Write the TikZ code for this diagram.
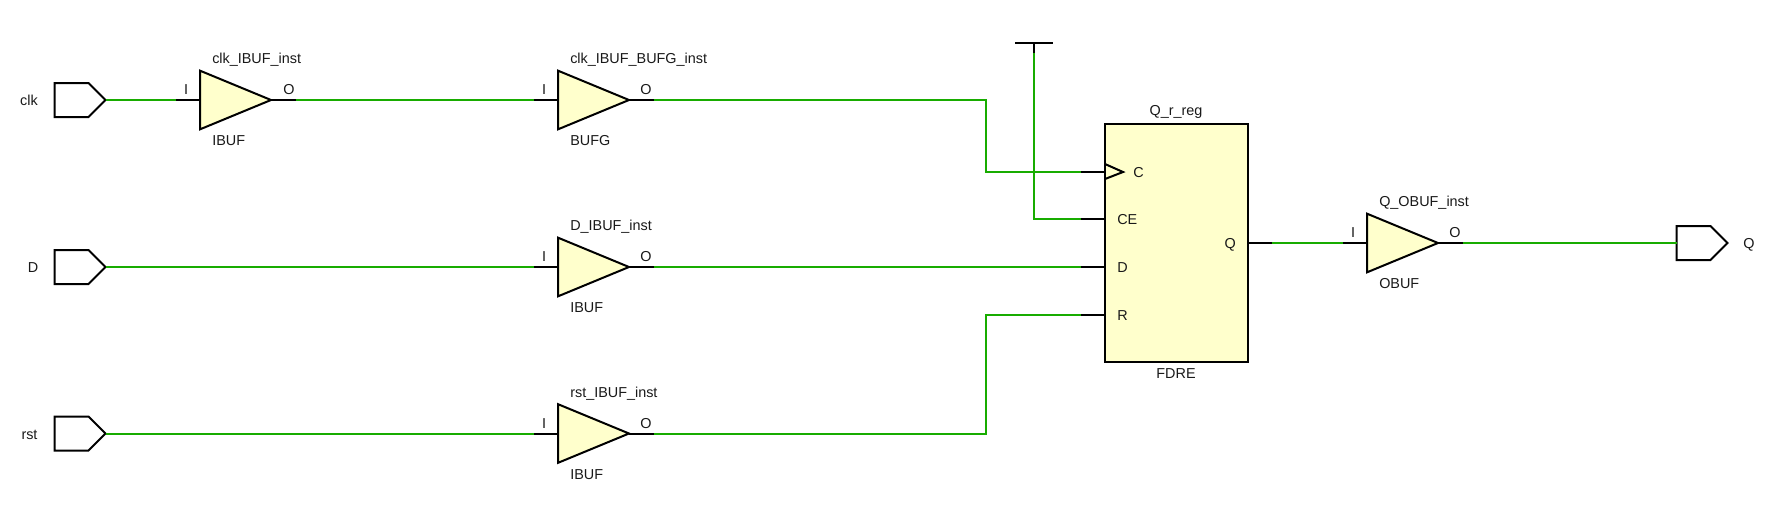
\documentclass[tikz,border=0pt]{standalone}
\usepackage{fontspec}
\setmainfont{Liberation Sans}
\usetikzlibrary{shapes.geometric, shapes.symbols}

\definecolor{netgreen}{RGB}{24,172,0}
\definecolor{cellfill}{RGB}{255,255,204}

\tikzset{
    pinline/.style={black, line width=1.5pt},
    wire/.style={netgreen, line width=1.5pt},
    bufcell/.style={draw=black, line width=1.5pt, fill=cellfill, shape=isosceles triangle,
        isosceles triangle stretches, shape border rotate=0, inner sep=0pt, outer sep=0pt,
        minimum width=44pt, minimum height=53.25pt, anchor=west},
    port/.style={draw=black, line width=1.5pt, fill=white, shape=signal, signal to=east,
        signal from=nowhere, signal pointer angle=90, inner sep=0pt, outer sep=0pt,
        minimum width=38.25pt, minimum height=25.5pt, anchor=west},
    txt/.style={font=\fontsize{10.8pt}{12pt}\selectfont, text=black!90, inner sep=0pt, anchor=base west},
    txtc/.style={txt, anchor=base}
}

\begin{document}
\begin{tikzpicture}[x=0.75pt, y=-0.75pt]

    \useasboundingbox (0,0) rectangle (1770,515);

    % Input and output ports
    \node[port] (clk) at (54.5,100) {};
    \node[port] (D) at (54.5,267) {};
    \node[port] (rst) at (54.5,433.5) {};
    \node[port] (Q) at (1676.5,243) {};
    \node[txtc] (clktxt) at (29,105) {clk};
    \node[txtc] (Dtxt) at (33,272) {D};
    \node[txtc] (rsttxt) at (29.5,439.5) {rst};
    \node[txtc] (Qtxt) at (1749,248) {Q};

    % Buffers
    \node[bufcell] (clkibuf) at (200,100) {};
    \node[bufcell] (clkbufg) at (558,100) {};
    \node[bufcell] (dibuf) at (558,267) {};
    \node[bufcell] (rstibuf) at (558,433.5) {};
    \node[bufcell] (qobuf) at (1367,243) {};

    % Buffer pins
    \coordinate (clkibufI) at (176,100);
    \coordinate (clkibufO) at (296,100);
    \coordinate (clkbufgI) at (534,100);
    \coordinate (clkbufgO) at (654,100);
    \coordinate (dibufI) at (534,267);
    \coordinate (dibufO) at (654,267);
    \coordinate (rstibufI) at (534,433.5);
    \coordinate (rstibufO) at (654,433.5);
    \coordinate (qobufI) at (1343,243);
    \coordinate (qobufO) at (1463,243);

    % Buffer texts
    \node[txt] (clkibufname) at (212,63) {clk\_IBUF\_inst};
    \node[txt] (clkibuftype) at (212,145) {IBUF};
    \node[txtc] (clkibufItxt) at (186,94) {I};
    \node[txtc] (clkibufOtxt) at (289,94) {O};
    \node[txt] (clkbufgname) at (570,63) {clk\_IBUF\_BUFG\_inst};
    \node[txt] (clkbufgtype) at (570,145) {BUFG};
    \node[txtc] (clkbufgItxt) at (544,94) {I};
    \node[txtc] (clkbufgOtxt) at (646,94) {O};
    \node[txt] (dibufname) at (570,230) {D\_IBUF\_inst};
    \node[txt] (dibuftype) at (570,312) {IBUF};
    \node[txtc] (dibufItxt) at (544,261) {I};
    \node[txtc] (dibufOtxt) at (646,261) {O};
    \node[txt] (rstibufname) at (570,397.5) {rst\_IBUF\_inst};
    \node[txt] (rstibuftype) at (570,479.5) {IBUF};
    \node[txtc] (rstibufItxt) at (544,428.5) {I};
    \node[txtc] (rstibufOtxt) at (646,428.5) {O};
    \node[txt] (qobufname) at (1379,206) {Q\_OBUF\_inst};
    \node[txt] (qobuftype) at (1379,288) {OBUF};
    \node[txtc] (qobufItxt) at (1353,237) {I};
    \node[txtc] (qobufOtxt) at (1455,237) {O};

    % Flip-flop
    \node[draw=black, line width=1.5pt, fill=cellfill, inner sep=0pt, outer sep=0pt,
        minimum width=107.25pt, minimum height=178.5pt] (reg) at (1176.5,243) {};
    \node[txtc] (regname) at (1176,115) {Q\_r\_reg};
    \node[txtc] (regtype) at (1176,378) {FDRE};
    \node[txt] (regCtxt) at (1133,177) {C};
    \node[txt] (regCEtxt) at (1117,224) {CE};
    \node[txt] (regDtxt) at (1117,272) {D};
    \node[txt] (regRtxt) at (1117,320) {R};
    \node[txt, anchor=base east] (regQtxt) at (1236,248) {Q};
    \coordinate (regCedge) at (1105,172);
    \coordinate (regCEedge) at (1105,219);
    \coordinate (regDedge) at (1105,267);
    \coordinate (regRedge) at (1105,315);
    \coordinate (regQedge) at (1248,243);
    \coordinate (regC) at (1081,172);
    \coordinate (regCE) at (1081,219);
    \coordinate (regD) at (1081,267);
    \coordinate (regR) at (1081,315);
    \coordinate (regQ) at (1272,243);

    % Clock mark
    \coordinate (clkmarka) at (1105,164);
    \coordinate (clkmarkb) at (1123,172);
    \coordinate (clkmarkc) at (1105,179);
    \draw[pinline] (clkmarka) -- (clkmarkb) -- (clkmarkc);

    % Tie-high symbol
    \coordinate (vccl) at (1015,43);
    \coordinate (vccr) at (1053,43);
    \coordinate (vcc) at (1034,43);
    \coordinate (vccpin) at (1034,53);
    \draw[pinline] (vccl) -- (vccr);
    \draw[pinline] (vcc) -- (vccpin);

    % Nets
    \coordinate (clkbend) at (986,172);
    \coordinate (rstbend) at (986,315);
    \draw[wire] (clk.east) -- (clkibufI);
    \draw[wire] (clkibufO) -- (clkbufgI);
    \draw[wire] (clkbufgO) -| (clkbend) -- (regC);
    \draw[wire] (vccpin) |- (regCE);
    \draw[wire] (D.east) -- (dibufI);
    \draw[wire] (dibufO) -- (regD);
    \draw[wire] (rst.east) -- (rstibufI);
    \draw[wire] (rstibufO) -| (rstbend) -- (regR);
    \draw[wire] (regQ) -- (qobufI);
    \draw[wire] (qobufO) -- (Q.west);

    % Pin stubs
    \draw[pinline] (clkibufI) -- (clkibuf.west);
    \draw[pinline] (clkibuf.east) -- (clkibufO);
    \draw[pinline] (clkbufgI) -- (clkbufg.west);
    \draw[pinline] (clkbufg.east) -- (clkbufgO);
    \draw[pinline] (dibufI) -- (dibuf.west);
    \draw[pinline] (dibuf.east) -- (dibufO);
    \draw[pinline] (rstibufI) -- (rstibuf.west);
    \draw[pinline] (rstibuf.east) -- (rstibufO);
    \draw[pinline] (qobufI) -- (qobuf.west);
    \draw[pinline] (qobuf.east) -- (qobufO);
    \draw[pinline] (regC) -- (regCedge);
    \draw[pinline] (regCE) -- (regCEedge);
    \draw[pinline] (regD) -- (regDedge);
    \draw[pinline] (regR) -- (regRedge);
    \draw[pinline] (regQedge) -- (regQ);

\end{tikzpicture}
\end{document}
